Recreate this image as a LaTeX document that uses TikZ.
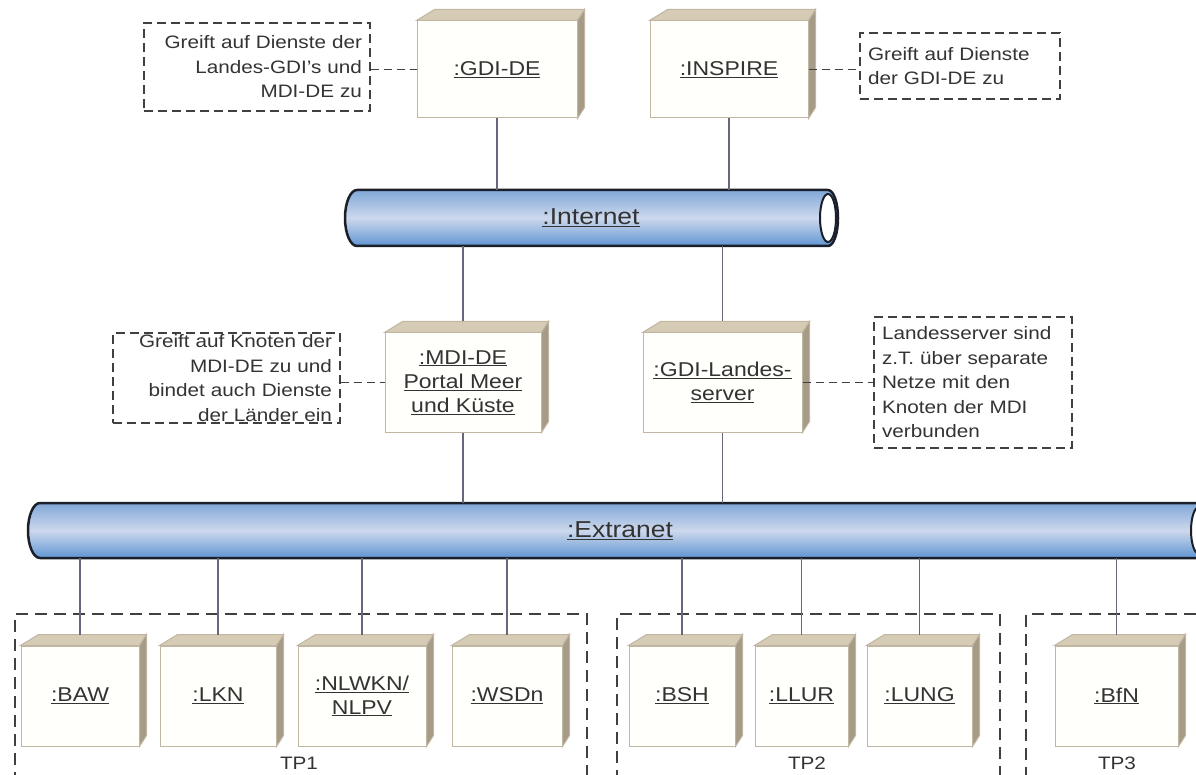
\documentclass[tikz,border=0pt]{standalone}
\usepackage{fontspec}
\setmainfont{Liberation Sans}[FakeStretch=1.15]
\definecolor{txt}{RGB}{51,51,51}
\definecolor{notec}{RGB}{64,64,64}
\definecolor{conn}{RGB}{104,102,124}
\definecolor{boxfront}{RGB}{255,255,251}
\definecolor{boxline}{RGB}{192,182,162}
\definecolor{boxtop}{RGB}{214,204,182}
\definecolor{boxside}{RGB}{166,155,134}
\definecolor{pipet}{RGB}{128,168,216}
\definecolor{pipeb}{RGB}{95,149,210}
\definecolor{pipel}{RGB}{205,216,236}
\definecolor{pipeline}{RGB}{26,31,42}

\begin{document}
\begin{tikzpicture}
    [x=1pt,y=1pt,
     box/.style={draw=boxline,line width=1pt,fill=boxfront,inner sep=0pt,align=center,text=txt,
       font=\fontsize{20}{24}\selectfont,
       append after command={\pgfextra{
         \filldraw[fill=boxtop,draw=boxline,line width=1pt] (\tikzlastnode.north west) -- ++(18,11)
           -- ([shift={(7,11)}]\tikzlastnode.north east) -- (\tikzlastnode.north east) -- cycle;
         \filldraw[fill=boxside,draw=boxline,line width=1pt] (\tikzlastnode.north east) -- ++(7,11)
           -- ([shift={(7,11)}]\tikzlastnode.south east) -- (\tikzlastnode.south east) -- cycle;}}},
     top/.style={box,minimum width=#1,minimum height=97pt},
     bot/.style={box,minimum width=#1,minimum height=100pt},
     note/.style={draw=notec,line width=1.3pt,dash pattern=on 9pt off 5pt,inner xsep=8pt,inner ysep=1pt,
       text=txt,font=\fontsize{18}{24.5}\selectfont},
     grp/.style={draw=notec,line width=1.8pt,dash pattern=on 12pt off 7pt,minimum height=180pt},
     pipe/.style={draw=pipeline,line width=2.5pt,top color=pipet,bottom color=pipeb,middle color=pipel},
     pipeend/.style={draw=pipeline,line width=2pt,fill=white},
     pipetxt/.style={inner sep=0pt,minimum height=#1,text=txt,font=\fontsize{23}{26}\selectfont},
     conn/.style={draw=conn,line width=1.5pt},
     nline/.style={draw=notec,line width=1.3pt,dash pattern=on 8pt off 5pt},
     tp/.style={text=txt,font=\fontsize{18}{20}\selectfont}]
    \useasboundingbox (0,0) rectangle (1196,-775);
    \clip (0,0) rectangle (1196,-775);

    \node[grp,minimum width=572pt] (g1) at (301,-704) {};
    \node[grp,minimum width=383pt] (g2) at (808.5,-704) {};
    \node[grp,minimum width=204pt] (g3) at (1128,-704) {};
    \node[tp] (tp1) at (299,-763) {TP1};
    \node[tp] (tp2) at (807,-763) {TP2};
    \node[tp] (tp3) at (1117,-763) {TP3};

    \path[pipe] (357,-190) -- (828,-190) arc[start angle=90,end angle=-90,x radius=10,y radius=28]
      -- (357,-246) arc[start angle=270,end angle=90,x radius=12,y radius=28] -- cycle;
    \path[pipeend] (828,-218) ellipse [x radius=8,y radius=24];
    \node[pipetxt=56pt,minimum width=493pt] (inet) at (591,-218) {\underline{:Internet}};

    \path[pipe] (40,-503) -- (1199,-503) arc[start angle=90,end angle=-90,x radius=10,y radius=27.5]
      -- (40,-558) arc[start angle=270,end angle=90,x radius=12,y radius=27.5] -- cycle;
    \path[pipeend] (1199,-530.5) ellipse [x radius=8,y radius=23.5];
    \node[pipetxt=55pt,minimum width=1000pt] (enet) at (620,-530.5) {\underline{:Extranet}};

    \node[top=160pt] (gdi) at (497,-69.5) {\underline{:GDI-DE}};
    \node[top=158pt] (insp) at (729,-69.5) {\underline{:INSPIRE}};
    \node[box,minimum width=156pt,minimum height=99pt] (mdi) at (463,-382.5)
      {\underline{:MDI-DE}\\\underline{Portal Meer}\\\underline{und Küste}};
    \node[box,minimum width=159pt,minimum height=99pt] (gls) at (722.5,-382.5)
      {\underline{:GDI-Landes-}\\\underline{server}};

    \node[bot=118pt] (baw) at (80,-696) {\underline{:BAW}};
    \node[bot=116pt] (lkn) at (218,-696) {\underline{:LKN}};
    \node[bot=128pt] (nlw) at (362,-696) {\underline{:NLWKN/}\\\underline{NLPV}};
    \node[bot=110pt] (wsd) at (507,-696) {\underline{:WSDn}};
    \node[bot=106pt] (bsh) at (682,-696) {\underline{:BSH}};
    \node[bot=93pt] (llur) at (801.5,-696) {\underline{:LLUR}};
    \node[bot=105pt] (lung) at (919.5,-696) {\underline{:LUNG}};
    \node[bot=123pt] (bfn) at (1116.5,-696) {\underline{:BfN}};

    \node[note,text width=210pt,align=right,minimum height=88pt] (nt1) at (257,-67)
      {Greift auf Dienste der\\Landes-GDI's und\\MDI-DE zu};
    \node[note,text width=184pt,align=left,minimum height=66pt] (nt2) at (960,-66)
      {Greift auf Dienste\\der GDI-DE zu};
    \node[note,text width=211pt,align=right,minimum height=90pt] (nt3) at (226.5,-378)
      {Greift auf Knoten der\\MDI-DE zu und\\bindet auch Dienste\\der Länder ein};
    \node[note,text width=182pt,align=left,minimum height=131pt] (nt4) at (973,-382.5)
      {Landesserver sind\\z.T. über separate\\Netze mit den\\Knoten der MDI\\verbunden};

    \draw[conn] (gdi.south) -- (gdi.south |- inet.north);
    \draw[conn] (insp.south) -- (insp.south |- inet.north);
    \draw[conn] (inet.south -| mdi.north) -- ([yshift=11pt]mdi.north);
    \draw[conn] (inet.south -| gls.north) -- ([yshift=11pt]gls.north);
    \draw[conn] (mdi.south) -- (mdi.south |- enet.north);
    \draw[conn] (gls.south) -- (gls.south |- enet.north);
    \draw[conn] (enet.south -| baw.north) -- ([yshift=11pt]baw.north);
    \draw[conn] (enet.south -| lkn.north) -- ([yshift=11pt]lkn.north);
    \draw[conn] (enet.south -| nlw.north) -- ([yshift=11pt]nlw.north);
    \draw[conn] (enet.south -| wsd.north) -- ([yshift=11pt]wsd.north);
    \draw[conn] (enet.south -| bsh.north) -- ([yshift=11pt]bsh.north);
    \draw[conn] (enet.south -| llur.north) -- ([yshift=11pt]llur.north);
    \draw[conn] (enet.south -| lung.north) -- ([yshift=11pt]lung.north);
    \draw[conn] (enet.south -| bfn.north) -- ([yshift=11pt]bfn.north);

    \draw[nline] (nt1.east |- gdi.west) -- (gdi.west);
    \draw[nline] (insp.east) -- (insp.east -| nt2.west);
    \draw[nline] (nt3.east |- mdi.west) -- (mdi.west);
    \draw[nline] (gls.east) -- (gls.east -| nt4.west);
\end{tikzpicture}
\end{document}
